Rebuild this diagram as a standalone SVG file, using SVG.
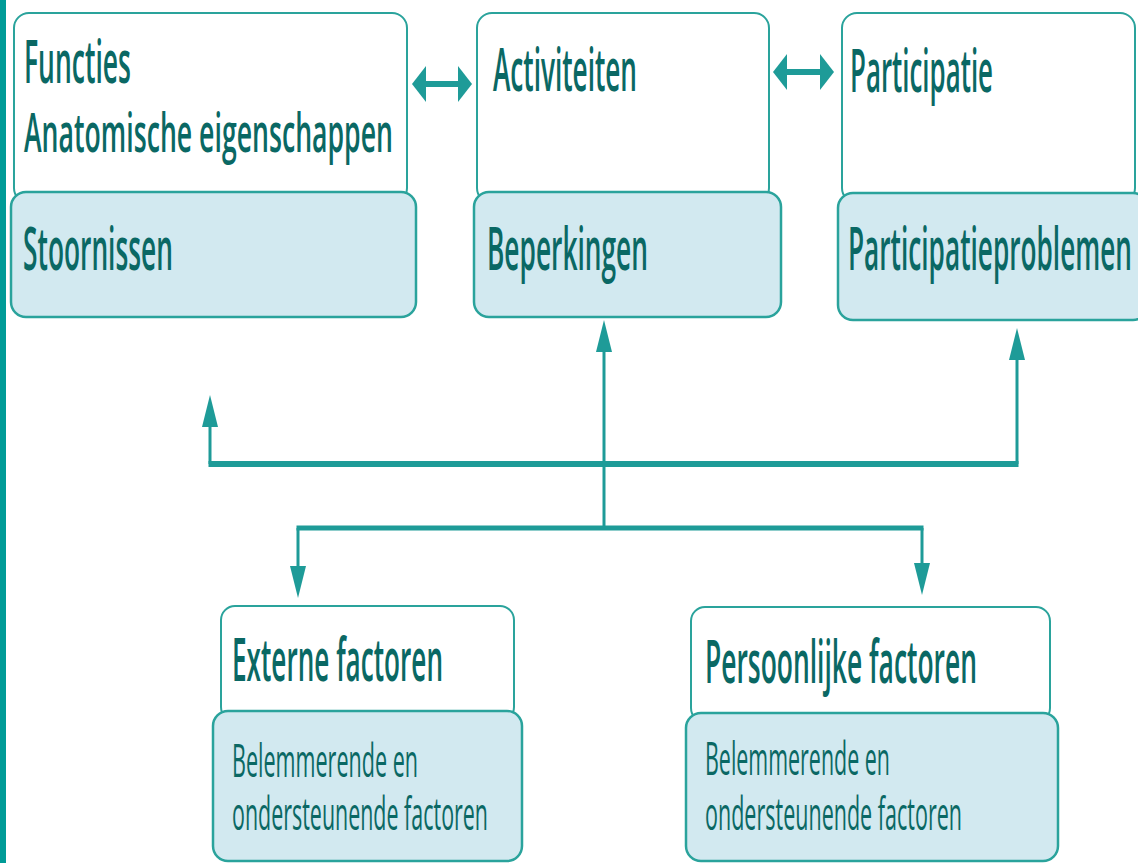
<svg xmlns="http://www.w3.org/2000/svg" width="1138" height="863" viewBox="0 0 1138 863">
  <style>
    .wbox { fill: #ffffff; stroke: #2aa39c; stroke-width: 2; }
    .bbox { fill: #d2e9f0; stroke: #2aa39c; stroke-width: 2.5; }
    .t { font-family: "Open Sans", "Noto Sans", sans-serif; fill: #0a6864; }
    .h { font-weight: 650; }
    .r { font-weight: 400; }
    .ln { stroke: #1e9b98; fill: none; stroke-linecap: butt; }
  </style>
  <defs>
    <marker id="hArr" viewBox="0 0 14 36" markerUnits="userSpaceOnUse" markerWidth="14" markerHeight="36" refX="0.5" refY="18" orient="auto-start-reverse">
      <path d="M0,0 L14,18 L0,36 z" fill="#1e9b98"/>
    </marker>
    <marker id="vArr" viewBox="0 0 32 16" markerUnits="userSpaceOnUse" markerWidth="32" markerHeight="16" refX="1" refY="8" orient="auto">
      <path d="M0,0 L32,8 L0,16 z" fill="#1e9b98"/>
    </marker>
  </defs>

  <rect x="0" y="0" width="6" height="863" fill="#009b97"/>

  <g id="node-functies">
    <rect class="wbox" x="14" y="13" width="393" height="190" rx="15"/>
    <rect class="bbox" x="11" y="192" width="405" height="125" rx="15"/>
    <text class="t h" x="24" y="83" font-size="60" textLength="107" lengthAdjust="spacingAndGlyphs">Functies</text>
    <text class="t h" x="24" y="152" font-size="54" textLength="369" lengthAdjust="spacingAndGlyphs">Anatomische eigenschappen</text>
    <text class="t h" x="23" y="270" font-size="60" textLength="150" lengthAdjust="spacingAndGlyphs">Stoornissen</text>
  </g>

  <g id="node-activiteiten">
    <rect class="wbox" x="477" y="13" width="292" height="190" rx="15"/>
    <rect class="bbox" x="474" y="192" width="307" height="125" rx="15"/>
    <text class="t h" x="493" y="91" font-size="60" textLength="144" lengthAdjust="spacingAndGlyphs">Activiteiten</text>
    <text class="t h" x="487" y="270" font-size="60" textLength="161" lengthAdjust="spacingAndGlyphs">Beperkingen</text>
  </g>

  <g id="node-participatie">
    <rect class="wbox" x="842" y="13" width="293" height="190" rx="15"/>
    <rect class="bbox" x="838" y="193" width="310" height="127" rx="15"/>
    <text class="t h" x="850" y="92" font-size="60" textLength="143" lengthAdjust="spacingAndGlyphs">Participatie</text>
    <text class="t h" x="848" y="270" font-size="60" textLength="284" lengthAdjust="spacingAndGlyphs">Participatieproblemen</text>
  </g>

  <g id="node-externe">
    <rect class="wbox" x="221" y="606" width="293" height="115" rx="14"/>
    <rect class="bbox" x="213" y="711" width="309" height="150" rx="15"/>
    <text class="t h" x="232" y="681" font-size="60" textLength="211" lengthAdjust="spacingAndGlyphs">Externe factoren</text>
    <text class="t r" x="232" y="777" font-size="46" textLength="186" lengthAdjust="spacingAndGlyphs">Belemmerende en</text>
    <text class="t r" x="232" y="830" font-size="46" textLength="256" lengthAdjust="spacingAndGlyphs">ondersteunende factoren</text>
  </g>

  <g id="node-persoonlijke">
    <rect class="wbox" x="691" y="607" width="359" height="115" rx="14"/>
    <rect class="bbox" x="686" y="713" width="372" height="148" rx="15"/>
    <text class="t h" x="705" y="683" font-size="60" textLength="272" lengthAdjust="spacingAndGlyphs">Persoonlijke factoren</text>
    <text class="t r" x="705" y="775" font-size="46" textLength="185" lengthAdjust="spacingAndGlyphs">Belemmerende en</text>
    <text class="t r" x="705" y="830" font-size="46" textLength="257" lengthAdjust="spacingAndGlyphs">ondersteunende factoren</text>
  </g>

  <g id="connectors">
    <line class="ln" x1="425.5" y1="84" x2="458.5" y2="84" stroke-width="6" marker-start="url(#hArr)" marker-end="url(#hArr)"/>
    <line class="ln" x1="786.5" y1="72" x2="820.5" y2="72" stroke-width="6" marker-start="url(#hArr)" marker-end="url(#hArr)"/>

    <line class="ln" x1="208.5" y1="464" x2="1018.5" y2="464" stroke-width="6"/>
    <line class="ln" x1="210" y1="464" x2="210" y2="426" stroke-width="3" marker-end="url(#vArr)"/>
    <line class="ln" x1="1017" y1="464" x2="1017" y2="359" stroke-width="3" marker-end="url(#vArr)"/>

    <line class="ln" x1="296.5" y1="528" x2="923.5" y2="528" stroke-width="5"/>
    <line class="ln" x1="604" y1="528" x2="604" y2="351" stroke-width="3" marker-end="url(#vArr)"/>
    <line class="ln" x1="298" y1="528" x2="298" y2="567" stroke-width="3" marker-end="url(#vArr)"/>
    <line class="ln" x1="922" y1="528" x2="922" y2="564" stroke-width="3" marker-end="url(#vArr)"/>
  </g>
</svg>
